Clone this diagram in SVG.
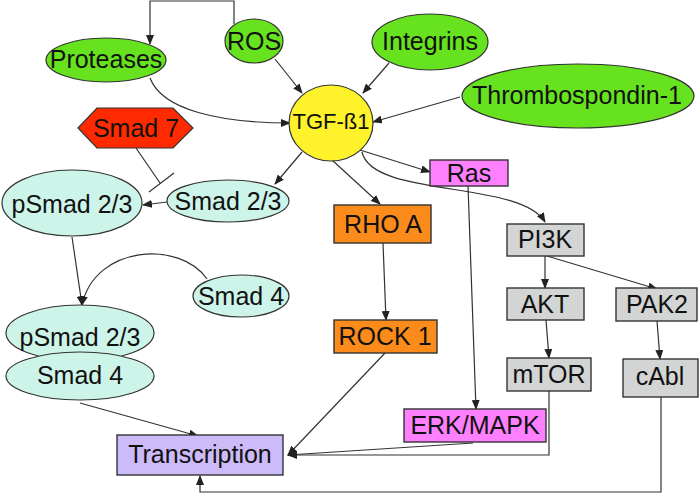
<svg xmlns="http://www.w3.org/2000/svg" width="700" height="494" viewBox="0 0 700 494">
<defs>
<marker id="ah" markerWidth="10" markerHeight="8" refX="9" refY="4" orient="auto" markerUnits="userSpaceOnUse">
<path d="M0,0 L10,4 L0,8 Z" fill="#222"/>
</marker>
<style>
text{font-family:"Liberation Sans",Arial,sans-serif;font-size:25px;fill:#111;text-anchor:middle}
.g{fill:#66e21e;stroke:#333;stroke-width:1.2}
.c{fill:#cdf4e9;stroke:#333;stroke-width:1.2}
.o{fill:#fb8c1b;stroke:#333;stroke-width:1.4}
.p{fill:#ff80ff;stroke:#333;stroke-width:1.4}
.gr{fill:#d2d5d4;stroke:#333;stroke-width:1.4}
.l{fill:#ccbbf8;stroke:#333;stroke-width:1.4}
.e{fill:none;stroke:#333;stroke-width:1.2}
.a{marker-end:url(#ah)}
</style>
</defs>
<rect width="700" height="494" fill="#fff"/>
<g id="connectors">
<path class="e a" d="M234,24 L234,1 L150,1 L150,44"/>
<path class="e a" d="M275,59 L302,93"/>
<path class="e a" d="M150,78 C162,110 220,123 290,123"/>
<path class="e a" d="M389,63 L363,93"/>
<path class="e a" d="M460,97 L373,122"/>
<path class="e" d="M136,148 L160,183 M149,192 L174,173"/>
<path class="e a" d="M302,152 L275,184"/>
<path class="e a" d="M167,202 L143,205"/>
<path class="e a" d="M72,237 L82,305"/>
<path class="e a" d="M207,279 C180,240 95,245 82,305"/>
<path class="e a" d="M332,160 L380,204"/>
<path class="e a" d="M360,150 L430,172"/>
<path class="e a" d="M362,152 C372,198 520,180 545,222"/>
<path class="e a" d="M383,243 L386,320"/>
<path class="e a" d="M468,186 L476,409"/>
<path class="e a" d="M545,256 L545,288"/>
<path class="e a" d="M547,256 L657,289"/>
<path class="e a" d="M546,320 L549,358"/>
<path class="e a" d="M657,321 L660,359"/>
<path class="e a" d="M80,403 L198,436"/>
<path class="e a" d="M385,353 L288,455"/>
<path class="e a" d="M473,443 L288,455"/>
<path class="e a" d="M549,391 L549,455 L288,455"/>
<path class="e a" d="M661,397 L661,492 L200,492 L200,476"/>
</g>
<g id="proteases"><ellipse class="g" cx="106" cy="60" rx="60" ry="22"/><text x="106" y="68">Proteases</text></g>
<g id="ros"><ellipse class="g" cx="254" cy="41" rx="29" ry="22"/><text x="254" y="50">ROS</text></g>
<g id="integrins"><ellipse class="g" cx="430" cy="42" rx="58" ry="28"/><text x="430" y="50">Integrins</text></g>
<g id="thrombospondin"><ellipse class="g" cx="578" cy="96" rx="116" ry="32"/><text x="577" y="104">Thrombospondin-1</text></g>
<g id="tgf"><ellipse cx="331" cy="123" rx="42" ry="38" fill="#fef22a" stroke="#333" stroke-width="1.2"/><text x="331" y="129" style="font-size:22px">TGF-ß1</text></g>
<g id="smad7"><polygon points="78,128 97,108 173,108 193,128 173,148 97,148" fill="#ff2a00" stroke="#333" stroke-width="1.2"/><text x="136" y="137">Smad 7</text></g>
<g id="smad23"><ellipse class="c" cx="228" cy="201" rx="61" ry="21"/><text x="228" y="210">Smad 2/3</text></g>
<g id="psmad23"><ellipse class="c" cx="72" cy="203" rx="70" ry="33"/><text x="72" y="213">pSmad 2/3</text></g>
<g id="smad4"><ellipse class="c" cx="241" cy="296" rx="48" ry="21"/><text x="241" y="305">Smad 4</text></g>
<g id="complex"><ellipse class="c" cx="80" cy="333" rx="74" ry="28"/><text x="80" y="346">pSmad 2/3</text><ellipse class="c" cx="80" cy="376" rx="74" ry="24"/><text x="80" y="384">Smad 4</text></g>
<g id="rhoa"><rect class="o" x="334" y="205" width="97" height="38"/><text x="383" y="233">RHO A</text></g>
<g id="rock1"><rect class="o" x="334" y="320" width="103" height="33"/><text x="385" y="345">ROCK 1</text></g>
<g id="ras"><rect class="p" x="430" y="160" width="78" height="26"/><text x="469" y="182">Ras</text></g>
<g id="erk"><rect class="p" x="404" y="409" width="142" height="33"/><text x="475" y="434">ERK/MAPK</text></g>
<g id="pi3k"><rect class="gr" x="507" y="224" width="77" height="32"/><text x="545" y="248">PI3K</text></g>
<g id="akt"><rect class="gr" x="507" y="288" width="77" height="32"/><text x="545" y="313">AKT</text></g>
<g id="pak2"><rect class="gr" x="616" y="288" width="81" height="33"/><text x="657" y="313">PAK2</text></g>
<g id="mtor"><rect class="gr" x="507" y="358" width="84" height="33"/><text x="549" y="383">mTOR</text></g>
<g id="cabl"><rect class="gr" x="623" y="359" width="75" height="38"/><text x="660" y="385">cAbl</text></g>
<g id="transcription"><rect class="l" x="117" y="435" width="166" height="40"/><text x="200" y="463">Transcription</text></g>
</svg>
